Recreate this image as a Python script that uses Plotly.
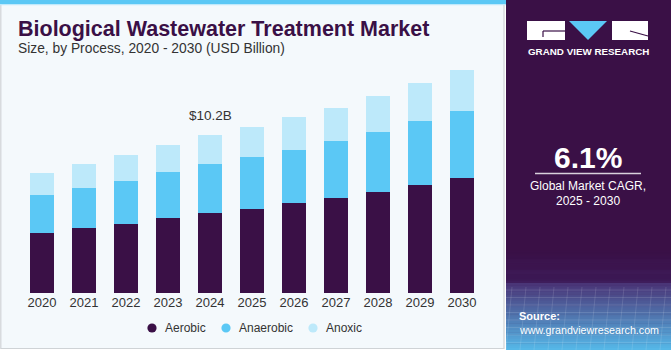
import plotly.graph_objects as go

years = ["2020", "2021", "2022", "2023", "2024", "2025", "2026", "2027", "2028", "2029", "2030"]
aerobic = [3.87, 4.19, 4.49, 4.86, 5.16, 5.46, 5.79, 6.15, 6.52, 6.97, 7.42]
anaerobic = [2.44, 2.59, 2.78, 2.97, 3.17, 3.30, 3.47, 3.66, 3.88, 4.12, 4.36]
anoxic = [1.42, 1.53, 1.62, 1.76, 1.87, 1.96, 2.09, 2.18, 2.33, 2.48, 2.65]
series_names = ["Aerobic", "Anaerobic", "Anoxic"]
highlight_year = "2024"
highlight_label = "$10.2B"

C_AER = "#3a1046"
C_ANA = "#5bc8f5"
C_ANO = "#bde9fa"
DARK = "#3a1046"
TXT = "#333333"
FONT = "Liberation Sans"

W, H = 671, 350
ML, MR, MT, MB = 21, 188, 60, 57
PW = W - ML - MR
PH = H - MT - MB


def px(x):
    return (x - ML) / PW


def py(y):
    return (H - MB - y) / PH


fig = go.Figure()
for name, vals, col in zip(series_names, [aerobic, anaerobic, anoxic], [C_AER, C_ANA, C_ANO]):
    fig.add_trace(go.Bar(x=years, y=vals, name=name, marker=dict(color=col, line=dict(width=0)),
                         showlegend=False))

shapes = []
anns = []

# main card background
shapes.append(dict(type="rect", xref="paper", yref="paper", x0=px(0.8), x1=px(504), y0=py(348.5), y1=py(4),
                   fillcolor="#f4f9fc", line=dict(color="#cfd3d6", width=1.2), layer="below"))
# top stripe
shapes.append(dict(type="rect", xref="paper", yref="paper", x0=px(0), x1=px(506), y0=py(5.2), y1=py(0),
                   fillcolor="#bfe9fb", line=dict(width=0), layer="below"))
shapes.append(dict(type="rect", xref="paper", yref="paper", x0=px(0), x1=px(506), y0=py(4), y1=py(0),
                   fillcolor="#5bc8f5", line=dict(width=0), layer="below"))
# right panel
shapes.append(dict(type="rect", xref="paper", yref="paper", x0=px(506), x1=px(671), y0=py(350), y1=py(0),
                   fillcolor=DARK, line=dict(width=0), layer="below"))


def lerp(c1, c2, t):
    a = [int(c1[i:i + 2], 16) for i in (1, 3, 5)]
    b = [int(c2[i:i + 2], 16) for i in (1, 3, 5)]
    return "#%02x%02x%02x" % tuple(round(a[k] + (b[k] - a[k]) * t) for k in range(3))


# bottom gradient of right panel
steps = 30
g_top, g_mid, g_bot = 250.0, 283.0, 350.0
for i in range(steps):
    y0 = g_top + (g_mid - g_top) * i / steps
    y1 = g_top + (g_mid - g_top) * (i + 1) / steps
    shapes.append(dict(type="rect", xref="paper", yref="paper", x0=px(506), x1=px(671), y0=py(y1), y1=py(y0),
                       fillcolor=lerp(DARK, "#3e1d5c", i / steps), line=dict(width=0), layer="below"))
for i in range(steps):
    y0 = g_mid + (g_bot - g_mid) * i / steps
    y1 = g_mid + (g_bot - g_mid) * (i + 1) / steps + 0.5
    shapes.append(dict(type="rect", xref="paper", yref="paper", x0=px(506), x1=px(671), y0=py(y1), y1=py(y0),
                       fillcolor=lerp("#4a3577", "#56bbeb", i / steps), line=dict(width=0), layer="below"))
# faint grid lines
for k in range(8):
    yy = 290 + k * 7.5
    shapes.append(dict(type="line", xref="paper", yref="paper", x0=px(506), x1=px(671), y0=py(yy), y1=py(yy),
                       line=dict(color="rgba(255,255,255,0.12)", width=1), layer="below"))
for k in range(12):
    xx = 512 + k * 14
    shapes.append(dict(type="line", xref="paper", yref="paper", x0=px(xx), x1=px(xx - 6), y0=py(287), y1=py(350),
                       line=dict(color="rgba(255,255,255,0.12)", width=1), layer="below"))

# logo
shapes.append(dict(type="rect", xref="paper", yref="paper", x0=px(527), x1=px(565), y0=py(40), y1=py(21),
                   fillcolor="white", line=dict(width=0), layer="below"))
shapes.append(dict(type="line", xref="paper", yref="paper", x0=px(543), x1=px(565), y0=py(31), y1=py(31),
                   line=dict(color=DARK, width=1.2), layer="below"))
shapes.append(dict(type="line", xref="paper", yref="paper", x0=px(543), x1=px(543), y0=py(31), y1=py(37),
                   line=dict(color=DARK, width=1.2), layer="below"))
shapes.append(dict(type="path", xref="paper", yref="paper",
                   path="M %f,%f L %f,%f L %f,%f Z" % (px(569), py(21), px(607), py(21), px(588), py(40)),
                   fillcolor=C_ANA, line=dict(width=0), layer="below"))
shapes.append(dict(type="rect", xref="paper", yref="paper", x0=px(612), x1=px(648), y0=py(40), y1=py(21),
                   fillcolor="white", line=dict(width=0), layer="below"))
shapes.append(dict(type="line", xref="paper", yref="paper", x0=px(630), x1=px(648), y0=py(31), y1=py(36),
                   line=dict(color=DARK, width=1.2), layer="below"))
anns.append(dict(text="<b>GRAND VIEW RESEARCH</b>", x=px(588), y=py(51.5), xref="paper", yref="paper",
                 showarrow=False, xanchor="center", yanchor="middle",
                 font=dict(family=FONT, size=9.8, color="white")))

# CAGR block
anns.append(dict(text="<b>6.1%</b>", x=px(588), y=py(157), xref="paper", yref="paper", showarrow=False,
                 xanchor="center", yanchor="middle", font=dict(family=FONT, size=30, color="white")))
shapes.append(dict(type="line", xref="paper", yref="paper", x0=px(535), x1=px(641), y0=py(173.5), y1=py(173.5),
                   line=dict(color="#d8d0dc", width=1.3)))
anns.append(dict(text="Global Market CAGR,", x=px(588), y=py(186), xref="paper", yref="paper", showarrow=False,
                 xanchor="center", yanchor="middle", font=dict(family=FONT, size=12, color="white")))
anns.append(dict(text="2025 - 2030", x=px(588), y=py(201), xref="paper", yref="paper", showarrow=False,
                 xanchor="center", yanchor="middle", font=dict(family=FONT, size=12, color="white")))
anns.append(dict(text="<b>Source:</b>", x=px(517), y=py(316), xref="paper", yref="paper", showarrow=False,
                 xanchor="left", yanchor="middle", font=dict(family=FONT, size=11, color="white")))
anns.append(dict(text="www.grandviewresearch.com", x=px(517), y=py(329.5), xref="paper", yref="paper",
                 showarrow=False, xanchor="left", yanchor="middle", font=dict(family=FONT, size=10.7, color="white")))

# titles
anns.append(dict(text="<b>Biological Wastewater Treatment Market</b>", x=px(16), y=py(29), xref="paper",
                 yref="paper", showarrow=False, xanchor="left", yanchor="middle",
                 font=dict(family=FONT, size=21.5, color=DARK)))
anns.append(dict(text="Size, by Process, 2020 - 2030 (USD Billion)", x=px(16), y=py(49), xref="paper",
                 yref="paper", showarrow=False, xanchor="left", yanchor="middle",
                 font=dict(family=FONT, size=13.8, color=TXT)))

# highlight label
hi = years.index(highlight_year)
anns.append(dict(text=highlight_label, x=hi, y=aerobic[hi] + anaerobic[hi] + anoxic[hi],
                 xref="x", yref="y", showarrow=False, xanchor="center", yanchor="bottom", yshift=10,
                 font=dict(family=FONT, size=13.5, color=TXT)))

# custom legend
leg_marker_x = [152, 226, 313]
leg_y = 328
for name, col, mx in zip(series_names, [C_AER, C_ANA, C_ANO], leg_marker_x):
    r = 4.6
    shapes.append(dict(type="circle", xref="paper", yref="paper", x0=px(mx - r), x1=px(mx + r),
                       y0=py(leg_y + r), y1=py(leg_y - r), fillcolor=col, line=dict(width=0)))
    anns.append(dict(text=name, x=px(mx + 10.5), y=py(leg_y - 0.5), xref="paper", yref="paper", showarrow=False,
                     xanchor="left", yanchor="middle", font=dict(family=FONT, size=12, color=TXT)))

fig.update_layout(
    width=W, height=H, margin=dict(l=ML, r=MR, t=MT, b=MB),
    barmode="stack", bargap=0.445,
    paper_bgcolor="white", plot_bgcolor="rgba(0,0,0,0)",
    shapes=shapes, annotations=anns, showlegend=False,
    xaxis=dict(type="category", categoryorder="array", categoryarray=years, range=[-0.5, len(years) - 0.5],
               showgrid=False, zeroline=False, showline=False, ticks="",
               tickfont=dict(family=FONT, size=13, color=TXT), fixedrange=True),
    yaxis=dict(range=[0, 15.06], visible=False, fixedrange=True),
)

fig.write_html("out.html", config={"displayModeBar": False})
